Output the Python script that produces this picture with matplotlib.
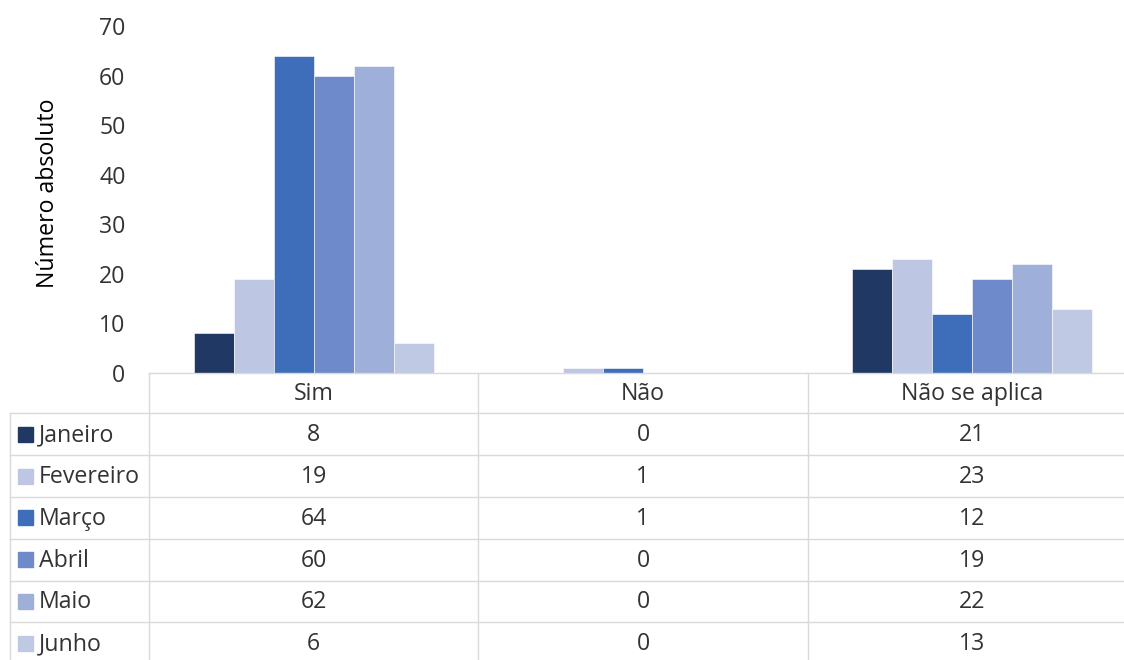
import matplotlib
matplotlib.use("Agg")
import matplotlib.pyplot as plt
import numpy as np

plt.rcParams['font.family'] = ['Open Sans', 'DejaVu Sans']

categories = ["Sim", "Não", "Não se aplica"]
months = ["Janeiro", "Fevereiro", "Março", "Abril", "Maio", "Junho"]
janeiro = [8, 0, 21]
fevereiro = [19, 1, 23]
marco = [64, 1, 12]
abril = [60, 0, 19]
maio = [62, 0, 22]
junho = [6, 0, 13]
series = [janeiro, fevereiro, marco, abril, maio, junho]
colors = ["#203864", "#BDC7E4", "#3E6DBA", "#6E8ACB", "#9EAFD9", "#BFC9E4"]
yticks = [0, 10, 20, 30, 40, 50, 60, 70]

FS = 16.7
TXT = "#333333"

W, H = 1124, 660
fig = plt.figure(figsize=(W / 100, H / 100), dpi=100)

# plot area in pixels
px_left, px_right, px_top, px_bottom = 149, 1137, 26, 373
ax = fig.add_axes([px_left / W, 1 - px_bottom / H, (px_right - px_left) / W, (px_bottom - px_top) / H])

n = len(series)
bw = 0.1216
x = np.arange(len(categories))
for i, (vals, c) in enumerate(zip(series, colors)):
    ax.bar(x + (i - (n - 1) / 2) * bw, vals, width=bw, color=c, edgecolor="white", linewidth=0.4, zorder=2)

ax.set_xlim(-0.5, len(categories) - 0.5)
ax.set_ylim(0, 70)
ax.set_yticks(yticks)
ax.set_yticklabels([str(v) for v in yticks], fontsize=FS, color=TXT)
ax.tick_params(axis="y", length=0, pad=17)
ax.set_xticks([])
for s in ["left", "right", "top"]:
    ax.spines[s].set_visible(False)
ax.spines["bottom"].set_color("#D9D9D9")
ax.spines["bottom"].set_linewidth(1)
ax.patch.set_alpha(0)
fig.text(48 / W, 1 - 193 / H, "Número absoluto", rotation=90, ha="center", va="center", fontsize=FS, color="black")

# data table overlay in pixel coordinates
ov = fig.add_axes([0, 0, 1, 1])
ov.set_xlim(0, W)
ov.set_ylim(H, 0)
ov.axis("off")
ov.patch.set_alpha(0)

gc = "#D9D9D9"
col_edges = [px_left + (px_right - px_left) * k / len(categories) for k in range(len(categories) + 1)]
row_h = 41.8
hdr_top, hdr_bot = 373, 413.3
row_edges = [hdr_bot + k * row_h for k in range(len(months) + 1)]
tbl_left = 9.5

for xe in col_edges:
    ov.plot([xe, xe], [hdr_top, row_edges[-1]], color=gc, lw=1)
ov.plot([tbl_left, tbl_left], [hdr_bot, row_edges[-1]], color=gc, lw=1)
for ye in row_edges:
    ov.plot([tbl_left, px_right], [ye, ye], color=gc, lw=1)

for j, cat in enumerate(categories):
    cx = (col_edges[j] + col_edges[j + 1]) / 2
    ov.text(cx, (hdr_top + hdr_bot) / 2 + 1, cat, ha="center", va="center", fontsize=FS, color=TXT)

for i, (m, vals, c) in enumerate(zip(months, series, colors)):
    cy = (row_edges[i] + row_edges[i + 1]) / 2
    ov.add_patch(plt.Rectangle((18.3, cy - 7.5), 15, 15, color=c))
    ov.text(39, cy + 1, m, ha="left", va="center", fontsize=FS, color=TXT)
    for j, v in enumerate(vals):
        cx = (col_edges[j] + col_edges[j + 1]) / 2
        ov.text(cx, cy + 1, str(v), ha="center", va="center", fontsize=FS, color=TXT)

fig.savefig("out.png", dpi=100, facecolor="white")
